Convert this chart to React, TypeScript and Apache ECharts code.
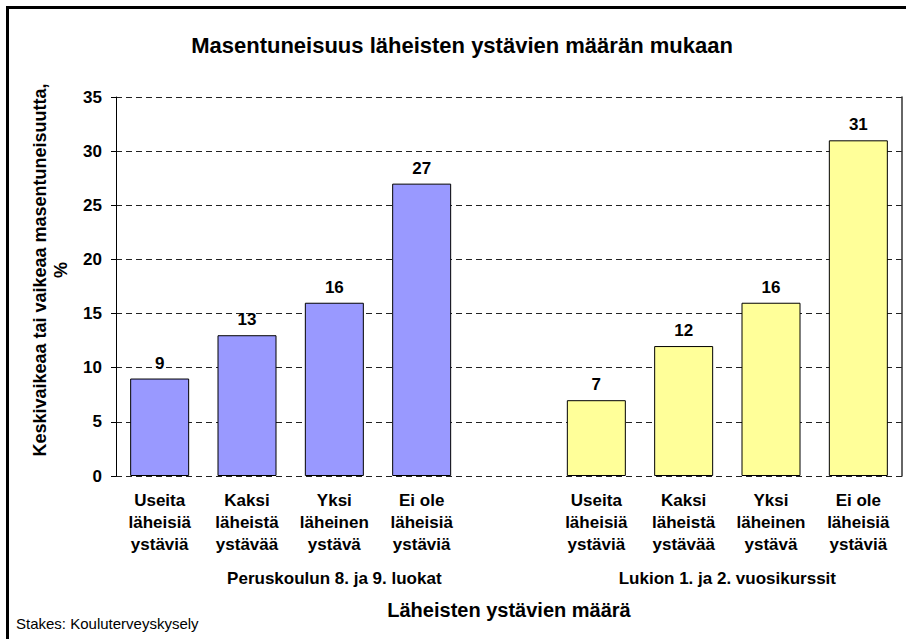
import React, { useEffect, useRef } from "react";
import * as echarts from "echarts";

const categories: string[] = [
  "Useita\nläheisiä\nystäviä",
  "Kaksi\nläheistä\nystävää",
  "Yksi\nläheinen\nystävä",
  "Ei ole\nläheisiä\nystäviä",
  "",
  "Useita\nläheisiä\nystäviä",
  "Kaksi\nläheistä\nystävää",
  "Yksi\nläheinen\nystävä",
  "Ei ole\nläheisiä\nystäviä",
];
const peruskouluValues: (number | string)[] = [9, 13, 16, 27, "-", "-", "-", "-", "-"];
const lukioValues: (number | string)[] = ["-", "-", "-", "-", "-", 7, 12, 16, 31];
const groupLabels: string[] = ["Peruskoulun 8. ja 9. luokat", "Lukion 1. ja 2. vuosikurssit"];
// category index ranges each group label is centred on
const groupSpans: [number, number][] = [[0, 4], [5, 8]];
const yTicks = { min: 0, max: 35, interval: 5 };

const TITLE = "Masentuneisuus läheisten ystävien määrän mukaan";
const Y_NAME = "Keskivaikeaa tai vaikeaa masentuneisuutta,\n%";
const X_NAME = "Läheisten ystävien määrä";
const SOURCE = "Stakes: Kouluterveyskysely";

const FONT = "'Liberation Sans', Arial, Helvetica, sans-serif";

export default function App() {
  const ref = useRef<HTMLDivElement>(null);
  useEffect(() => {
    if (!ref.current) return;
    document.body.style.margin = "0";
    const chart = echarts.init(ref.current, null, { renderer: "svg", width: 906, height: 639 });
    const labelStyle = { fontFamily: FONT, fontWeight: "bold" as const, fontSize: 17, color: "#000" };
    const option: any = {
      animation: false,
      backgroundColor: "#fff",
      grid: { left: 116, top: 97, width: 786, height: 379, containLabel: false },
      xAxis: {
        type: "category",
        data: categories,
        axisLine: { show: false },
        axisTick: { show: false },
        axisLabel: { ...labelStyle, interval: 0, lineHeight: 22, margin: 13 },
      },
      yAxis: [
        {
          type: "value",
          min: yTicks.min,
          max: yTicks.max,
          interval: yTicks.interval,
          axisLine: { show: true, lineStyle: { color: "#000", width: 1 } },
          axisTick: { show: true, inside: false, length: 5, lineStyle: { color: "#000" } },
          axisLabel: { ...labelStyle, margin: 14 },
          splitLine: { show: true, lineStyle: { color: "#222", width: 1, type: [6, 4] } },
        },
        {
          type: "value",
          position: "right",
          min: yTicks.min,
          max: yTicks.max,
          interval: yTicks.interval,
          axisLine: { show: true, lineStyle: { color: "#333", width: 1.5 } },
          axisTick: { show: false },
          axisLabel: { show: false },
          splitLine: { show: false },
        },
      ],
      series: [
        {
          type: "bar",
          stack: "all",
          data: peruskouluValues,
          barWidth: 59,
          itemStyle: { color: "#9999FF", borderColor: "#000", borderWidth: 1 },
          label: { show: true, position: "top", distance: 7, ...labelStyle },
        },
        {
          type: "bar",
          stack: "all",
          data: lukioValues,
          barWidth: 59,
          itemStyle: { color: "#FFFF99", borderColor: "#000", borderWidth: 1 },
          label: { show: true, position: "top", distance: 7, ...labelStyle },
        },
      ],
    };
    chart.setOption(option);

    const groupTexts = groupLabels.map((txt, i) => {
      const [a, b] = groupSpans[i];
      const xa = chart.convertToPixel({ xAxisIndex: 0 }, a) as number;
      const xb = chart.convertToPixel({ xAxisIndex: 0 }, b) as number;
      return {
        type: "text",
        x: (xa + xb) / 2,
        y: 578,
        style: { text: txt, fill: "#000", font: `bold 17px ${FONT}`, align: "center", verticalAlign: "middle" },
      };
    });
    const gx0 = chart.convertToPixel({ xAxisIndex: 0 }, 0) as number;
    const gx8 = chart.convertToPixel({ xAxisIndex: 0 }, 8) as number;

    chart.setOption({
      graphic: [
        {
          type: "rect",
          shape: { x: 7.5, y: 7.5, width: 1000, height: 1000 },
          style: { fill: "none", stroke: "#000", lineWidth: 3 },
          silent: true,
        },
        {
          type: "text",
          x: 462,
          y: 45,
          style: { text: TITLE, fill: "#000", font: `bold 22px ${FONT}`, align: "center", verticalAlign: "middle" },
        },
        {
          type: "text",
          x: 50,
          y: 270,
          rotation: Math.PI / 2,
          style: {
            text: Y_NAME,
            fill: "#000",
            font: `bold 18px ${FONT}`,
            lineHeight: 21,
            align: "center",
            verticalAlign: "middle",
          },
        },
        {
          type: "text",
          x: (gx0 + gx8) / 2,
          y: 610,
          style: { text: X_NAME, fill: "#000", font: `bold 20px ${FONT}`, align: "center", verticalAlign: "middle" },
        },
        ...groupTexts,
        {
          type: "text",
          x: 16,
          y: 623,
          style: { text: SOURCE, fill: "#000", font: `15px ${FONT}`, align: "left", verticalAlign: "middle" },
        },
      ],
    });
    return () => chart.dispose();
  }, []);
  return <div ref={ref} style={{ width: 906, height: 639 }} />;
}
